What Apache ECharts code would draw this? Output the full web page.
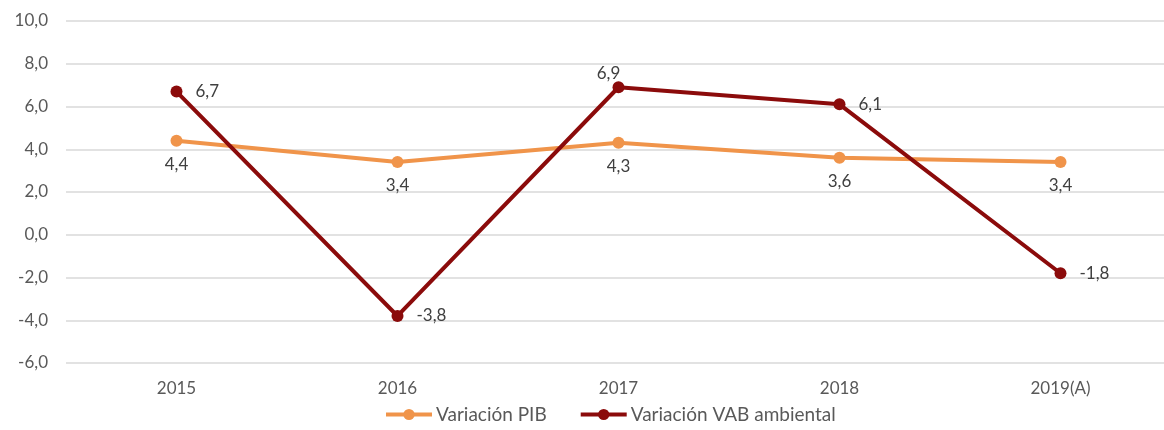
<!DOCTYPE html>
<html>
<head>
<meta charset="utf-8">
<script src="https://cdn.jsdelivr.net/npm/echarts@6/dist/echarts.min.js"></script>
<style>
html, body { margin: 0; padding: 0; background: #fff; }
#chart { width: 1164px; height: 430px; }
</style>
</head>
<body>
<div id="chart"></div>
<script>
var years = ['2015', '2016', '2017', '2018', '2019(A)'];
var pib = [4.4, 3.4, 4.3, 3.6, 3.4];
var vab = [6.7, -3.8, 6.9, 6.1, -1.8];
var vabLabelPos = ['right', 'right', 'top', 'right', 'right'];

var fmt = function (v) {
    return v.toFixed(1).replace('.', ',');
};
var textFont = 'Lato';
var textColor = '#595959';

var chart = echarts.init(document.getElementById('chart'));
var option = {
    animation: false,
    grid: { left: 66, width: 1105, top: 21, bottom: 67, outerBoundsMode: 'none' },
    legend: {
        bottom: 1,
        left: 379,
        itemWidth: 46,
        itemHeight: 14,
        itemGap: 32,
        lineStyle: { width: 4 },
        textStyle: { fontFamily: textFont, fontSize: 19, color: textColor, padding: [0, 0, 0, -1] },
        data: ['Variación PIB', 'Variación VAB ambiental']
    },
    xAxis: {
        type: 'category',
        data: years,
        axisLine: { show: false },
        axisTick: { show: false },
        axisLabel: { fontFamily: textFont, fontSize: 17, color: textColor, margin: 17 }
    },
    yAxis: {
        type: 'value',
        min: -6,
        max: 10,
        interval: 2,
        axisLine: { show: false },
        axisTick: { show: false },
        splitLine: { lineStyle: { color: '#d9d9d9', width: 1.5 } },
        axisLabel: {
            fontFamily: textFont, fontSize: 17, color: textColor, margin: 18,
            formatter: function (v) { return fmt(v); }
        }
    },
    series: [
        {
            name: 'Variación PIB',
            type: 'line',
            data: pib,
            symbol: 'circle',
            symbolSize: 12,
            itemStyle: { color: '#F0944A' },
            lineStyle: { color: '#F0944A', width: 4 },
            label: {
                show: true,
                position: 'bottom',
                distance: 9,
                fontFamily: textFont, fontSize: 17, color: '#404040',
                formatter: function (p) { return fmt(p.value); }
            },
            z: 2
        },
        {
            name: 'Variación VAB ambiental',
            type: 'line',
            data: vab.map(function (v, i) {
                var lbl = { position: vabLabelPos[i] };
                if (vabLabelPos[i] === 'top') {
                    lbl.offset = [-10, 14];
                }
                return { value: v, label: lbl };
            }),
            symbol: 'circle',
            symbolSize: 12,
            itemStyle: { color: '#8B0B0B' },
            lineStyle: { color: '#8B0B0B', width: 4 },
            label: {
                show: true,
                distance: 13,
                fontFamily: textFont, fontSize: 17, color: '#404040',
                formatter: function (p) { return fmt(p.value); }
            },
            z: 3
        }
    ]
};
chart.setOption(option);
</script>
</body>
</html>
